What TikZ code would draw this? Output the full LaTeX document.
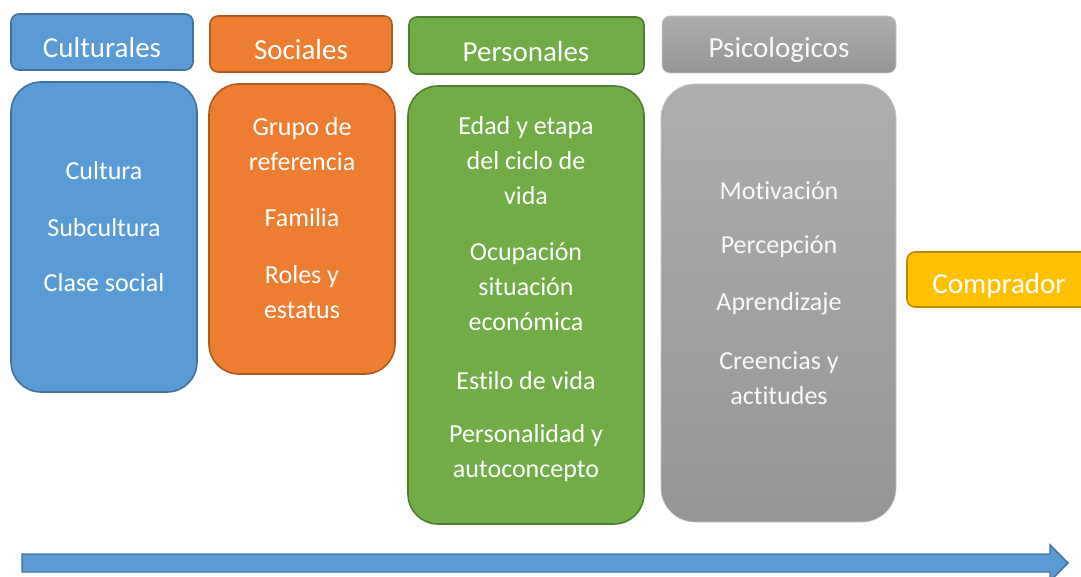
\documentclass[tikz,border=0pt]{standalone}
\usepackage{fontspec}
\setmainfont[Ligatures=NoCommon]{Carlito}
\definecolor{cblue}{HTML}{5B9BD5}
\definecolor{cblueD}{HTML}{41719C}
\definecolor{corange}{HTML}{ED7D31}
\definecolor{corangeD}{HTML}{AE5A21}
\definecolor{cgreen}{HTML}{70AD47}
\definecolor{cgreenD}{HTML}{507E32}
\definecolor{cgold}{HTML}{FFC000}
\definecolor{cgoldD}{HTML}{BC8C00}
\definecolor{cgrayT}{HTML}{AEAEAE}
\definecolor{cgrayB}{HTML}{959595}
\definecolor{cgrayL}{HTML}{C8C8C8}
\begin{document}
\begin{tikzpicture}[x=1pt,y=-1pt,
  hdr/.style={rounded corners=8pt,line width=1.6pt},
  body/.style={rounded corners=30pt,line width=1.6pt},
  htext/.style={text=white,font=\fontsize{29}{35}\selectfont,inner sep=0pt},
  btext/.style={text=white,font=\fontsize{26}{35}\selectfont,align=center,inner sep=0pt},
  gtext/.style={text=white!95!gray}
]
\useasboundingbox (0,0) rectangle (1081,577);
% Culturales
\filldraw[hdr,fill=cblue,draw=cblueD] (11,14) rectangle (193,70);
\filldraw[body,fill=cblue,draw=cblueD] (11,82) rectangle (197,392);
\node[htext] (hcul) at (102,48) {Culturales};
\node[btext] (c1) at (104,171) {Cultura};
\node[btext] (c2) at (104,228) {Subcultura};
\node[btext] (c3) at (104,283) {Clase social};
% Sociales
\filldraw[hdr,fill=corange,draw=corangeD] (210,16) rectangle (392,72);
\filldraw[body,fill=corange,draw=corangeD] (209,84) rectangle (395,374);
\node[htext] (hsoc) at (301,50) {Sociales};
\node[btext] (s1) at (302,144) {Grupo de\\referencia};
\node[btext] (s2) at (302,218) {Familia};
\node[btext] (s3) at (302,292) {Roles y\\estatus};
% Personales
\filldraw[hdr,fill=cgreen,draw=cgreenD] (409,17) rectangle (644,74);
\filldraw[body,fill=cgreen,draw=cgreenD] (408,86) rectangle (644,524);
\node[htext] (hper) at (526,52) {Personales};
\node[btext] (p1) at (526,161) {Edad y etapa\\del ciclo de\\vida};
\node[btext] (p2) at (526,287) {Ocupación\\situación\\económica};
\node[btext] (p3) at (526,381) {Estilo de vida};
\node[btext] (p4) at (526,453) {Personalidad y\\autoconcepto};
% Psicologicos
\shade[hdr,top color=cgrayT,bottom color=cgrayB] (662,16) rectangle (896,73);
\draw[rounded corners=8pt,line width=0.6pt,draw=cgrayL] (662,16) rectangle (896,73);
\shade[rounded corners=34pt,top color=cgrayT,bottom color=cgrayB] (661,84) rectangle (896,522);
\draw[rounded corners=34pt,line width=0.6pt,draw=cgrayL] (661,84) rectangle (896,522);
\node[htext,gtext] (hpsi) at (779,50) {Psicologicos};
\node[btext,gtext] (g1) at (779,191) {Motivación};
\node[btext,gtext] (g2) at (779,247) {Percepción};
\node[btext,gtext] (g3) at (779,304) {Aprendizaje};
\node[btext,gtext] (g4) at (779,378) {Creencias y\\actitudes};
% Comprador
\filldraw[hdr,fill=cgold,draw=cgoldD] (907,252) rectangle (1100,307);
\node[htext] (comp) at (999,286) {Comprador};
% Arrow
\coordinate (a0) at (22,563);
\coordinate (a1) at (1068,563);
\filldraw[fill=cblue,draw=cblueD,line width=1.4pt,line join=miter]
  (a0) ++(0,-9) -- (1050,554) -- (1050,545) -- (a1) -- (1050,581) -- (1050,572) -- (22,572) -- cycle;
\end{tikzpicture}
\end{document}
